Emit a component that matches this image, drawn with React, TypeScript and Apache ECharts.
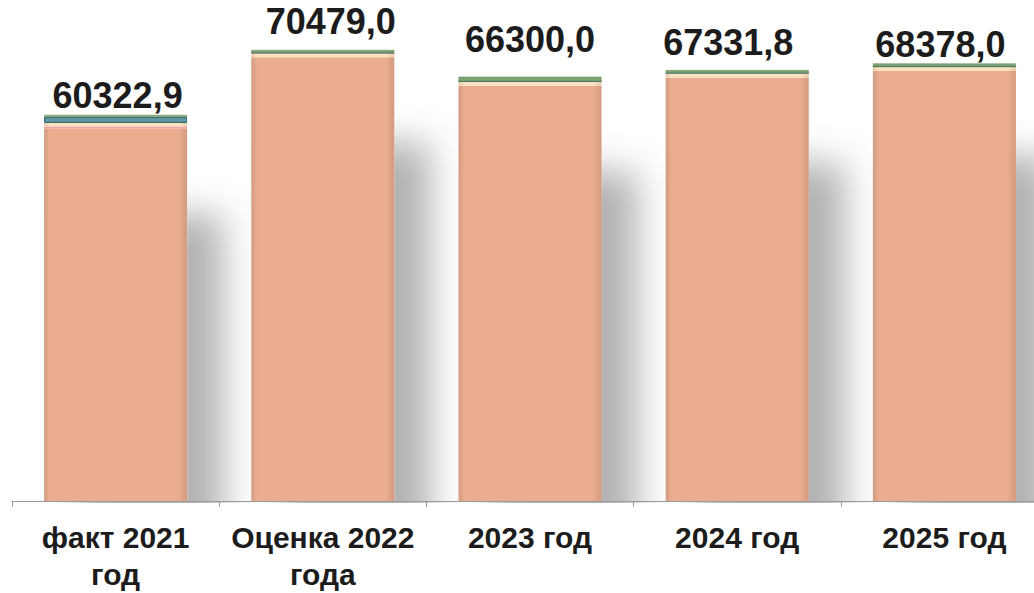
import React, { useEffect, useRef } from "react";
import * as echarts from "echarts";

const categories = ["факт 2021\nгод", "Оценка 2022\nгода", "2023 год", "2024 год", "2025 год"];
const totals = [60322.9, 70479.0, 66300.0, 67331.8, 68378.0];
const mainLayer = [58172.9, 69329.0, 64900.0, 66181.8, 67178.0];
const pinkLayer = [350, 0, 0, 0, 0];
const creamLayer = [550, 700, 700, 700, 700];
const tealLayer = [950, 0, 0, 0, 0];
const greenLayer = [300, 450, 700, 450, 500];

const labelGap = [1, 10, 19, 10, 1];
const labelShift = [2, 8, 0, -9, -4];

export default function App() {
  const ref = useRef<HTMLDivElement>(null);
  useEffect(() => {
    if (!ref.current) return;
    const chart = echarts.init(ref.current, null, { renderer: "svg" });
    const fmt = (v: number) => v.toFixed(1).replace(".", ",");
    const edgeGrad = (mid: string, edge: string) =>
      new echarts.graphic.LinearGradient(0, 0, 1, 0, [
        { offset: 0, color: edge },
        { offset: 0.04, color: mid },
        { offset: 0.94, color: mid },
        { offset: 1, color: edge },
      ]);
    const common = { type: "bar", stack: "total", barWidth: 143 };
    chart.setOption({
      animation: false,
      backgroundColor: "#ffffff",
      grid: { left: 12, right: 0, top: 21, bottom: 91 },
      xAxis: {
        type: "category",
        data: categories,
        z: 100,
        boundaryGap: true,
        axisLine: { show: true, lineStyle: { color: "#9a9a9a", width: 1 } },
        axisTick: { show: true, length: 6, alignWithLabel: false, lineStyle: { color: "#9a9a9a" } },
        axisLabel: {
          interval: 0,
          margin: 18,
          fontSize: 30,
          lineHeight: 37,
          fontWeight: "bold",
          fontFamily: "Liberation Sans",
          color: "#1c1c1c",
        },
      },
      yAxis: { type: "value", show: false, min: 0, max: 75000, splitLine: { show: false } },
      graphic: [
        {
          type: "rect",
          z: 50,
          shape: { x: 0, y: 503, width: 1060, height: 90 },
          style: { fill: "#ffffff" },
          silent: true,
        },
      ],
      series: [
        {
          ...common,
          name: "main",
          data: mainLayer,
          itemStyle: {
            color: edgeGrad("#EAAD8F", "#D39A80"),
            shadowColor: "rgba(0,0,0,0.3)",
            shadowBlur: 36,
            shadowOffsetX: 36,
            shadowOffsetY: 85,
          },
        },
        { ...common, name: "pink", data: pinkLayer, itemStyle: { color: "#EFA6A0" } },
        { ...common, name: "cream", data: creamLayer, itemStyle: { color: edgeGrad("#FCE3BD", "#E9C9A8") } },
        { ...common, name: "teal", data: tealLayer, itemStyle: { color: "#5E97A0", borderColor: "#2F6470", borderWidth: 1 } },
        {
          ...common,
          name: "green",
          data: greenLayer.map((v, i) => ({
            value: v,
            label: { distance: labelGap[i], offset: [labelShift[i], 0] },
          })),
          itemStyle: { color: "#7DA270", borderColor: "#6A8F5E", borderWidth: 0.5 },
          label: {
            show: true,
            position: "top",
            formatter: (p: any) => fmt(totals[p.dataIndex]),
            fontSize: 36,
            fontWeight: "bold",
            fontFamily: "Liberation Sans",
            color: "#1c1c1c",
          },
        },
      ],
    });
    return () => chart.dispose();
  }, []);
  return (
    <div
      style={{ position: "fixed", left: 0, top: 0, width: 1034, height: 593, overflow: "hidden", background: "#fff" }}
    >
      <div ref={ref} style={{ width: 1048, height: 593 }} />
    </div>
  );
}
